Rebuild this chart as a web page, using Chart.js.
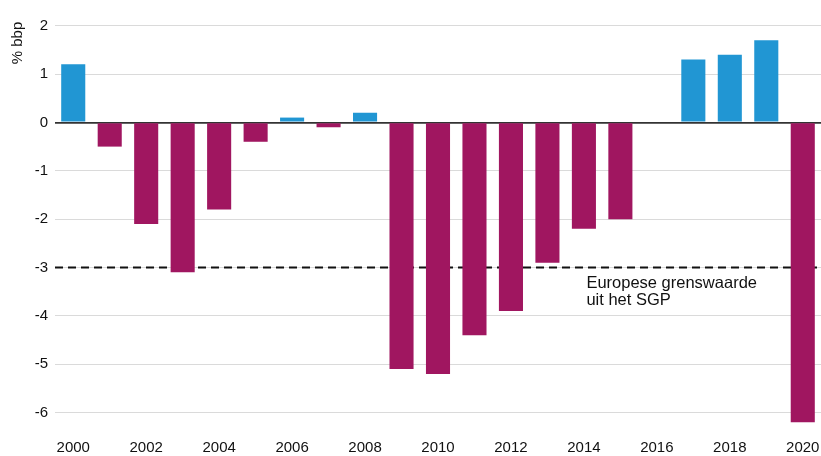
<!DOCTYPE html>
<html>
<head>
<meta charset="utf-8">
<script src="https://cdn.jsdelivr.net/npm/chart.js@4.4.0/dist/chart.umd.min.js"></script>
<style>
    html, body { margin: 0; padding: 0; background: #fff; }
    #wrap { width: 821px; height: 456px; }
</style>
</head>
<body>
<div id="wrap"><canvas id="saldoChart"></canvas></div>
<script>
// Data
const years = ['2000', '2001', '2002', '2003', '2004', '2005', '2006', '2007', '2008', '2009', '2010',
    '2011', '2012', '2013', '2014', '2015', '2016', '2017', '2018', '2019', '2020'];
const saldo = [1.2, -0.5, -2.1, -3.1, -1.8, -0.4, 0.1, -0.1, 0.2, -5.1, -5.2,
    -4.4, -3.9, -2.9, -2.2, -2.0, 0, 1.3, 1.4, 1.7, -6.2];
const yTicks = [2, 1, 0, -1, -2, -3, -4, -5, -6];
const grenswaarde = -3;
const grensLabel = ['Europese grenswaarde', 'uit het SGP'];
const yTitle = '% bbp';

const fontFamily = '"Liberation Sans", Arial, sans-serif';

// Dashed reference line, its label and the y-axis title
const grensPlugin = {
    id: 'grens',
    beforeDatasetsDraw(chart) {
        const { ctx, chartArea, scales } = chart;
        const y = scales.y.getPixelForValue(grenswaarde);
        ctx.save();
        ctx.strokeStyle = '#111';
        ctx.lineWidth = 2;
        ctx.setLineDash([8, 5]);
        ctx.beginPath();
        ctx.moveTo(chartArea.left, y);
        ctx.lineTo(chartArea.right, y);
        ctx.stroke();
        ctx.setLineDash([]);
        ctx.fillStyle = '#111';
        ctx.font = '16.5px ' + fontFamily;
        ctx.textBaseline = 'middle';
        ctx.textAlign = 'left';
        const x = scales.x.getPixelForValue(15) - 34;
        ctx.fillText(grensLabel[0], x, y + 16);
        ctx.fillText(grensLabel[1], x, y + 33);
        ctx.restore();
    },
    afterDraw(chart) {
        const ctx = chart.ctx;
        ctx.save();
        ctx.translate(18, 43);
        ctx.rotate(-Math.PI / 2);
        ctx.fillStyle = '#111';
        ctx.font = '15px ' + fontFamily;
        ctx.textAlign = 'center';
        ctx.textBaseline = 'middle';
        ctx.fillText(yTitle, 0, 0);
        ctx.restore();
    }
};

new Chart(document.getElementById('saldoChart'), {
    type: 'bar',
    data: {
        labels: years,
        datasets: [{
            data: saldo,
            backgroundColor: saldo.map(v => v >= 0 ? '#2196d3' : '#a01660'),
            barPercentage: 0.66,
            categoryPercentage: 1.0
        }]
    },
    options: {
        responsive: true,
        maintainAspectRatio: false,
        animation: false,
        layout: { padding: 0 },
        plugins: {
            legend: { display: false },
            tooltip: { enabled: false }
        },
        scales: {
            x: {
                grid: { display: false, tickLength: 7 },
                border: { display: false },
                afterFit: function (scale) {
                    scale.height = 24;
                },
                ticks: {
                    autoSkip: false,
                    maxRotation: 0,
                    color: '#111',
                    font: { family: fontFamily, size: 15 },
                    padding: 0,
                    callback: function (value, index) {
                        return index % 2 === 0 ? years[index] : '';
                    }
                }
            },
            y: {
                min: -6.4,
                max: 2.2,
                afterBuildTicks: function (scale) {
                    scale.ticks = yTicks.map(v => ({ value: v }));
                },
                afterFit: function (scale) {
                    scale.width = 55;
                },
                border: { display: false },
                grid: {
                    color: ctx => ctx.tick && ctx.tick.value === 0 ? '#333' : '#dadada',
                    lineWidth: ctx => ctx.tick && ctx.tick.value === 0 ? 1.8 : 1,
                    drawTicks: false
                },
                ticks: {
                    color: '#111',
                    font: { family: fontFamily, size: 15 },
                    padding: 7
                }
            }
        }
    },
    plugins: [grensPlugin]
});
</script>
</body>
</html>
